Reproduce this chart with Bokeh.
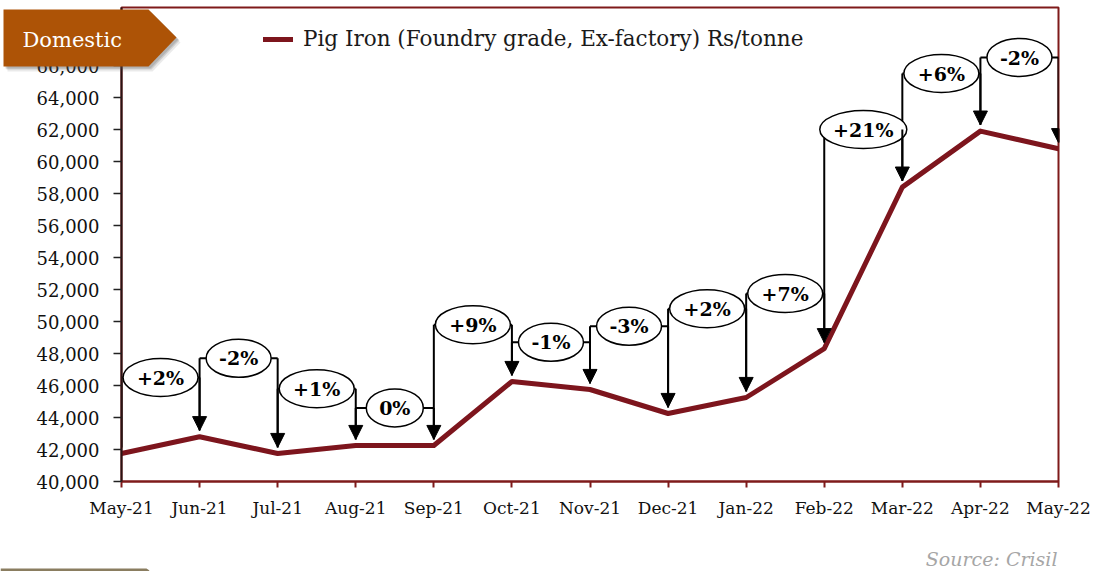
from bokeh.plotting import figure
from bokeh.layouts import column, row
from bokeh.models import (Range1d, FixedTicker, NumeralTickFormatter, Arrow, NormalHead,
                          Legend, LegendItem, ColumnDataSource)
from bokeh.core.properties import value
from bokeh.embed import file_html
from bokeh.resources import INLINE

# ---------------- data ----------------
months = ["May-21", "Jun-21", "Jul-21", "Aug-21", "Sep-21", "Oct-21", "Nov-21",
          "Dec-21", "Jan-22", "Feb-22", "Mar-22", "Apr-22", "May-22"]
prices = [41750, 42800, 41750, 42250, 42250, 46250, 45750, 44250, 45250, 48300,
          58400, 61900, 60800]
change_labels = ["+2%", "-2%", "+1%", "0%", "+9%", "-1%", "-3%", "+2%", "+7%",
                 "+21%", "+6%", "-2%"]
# vertical level (Rs/tonne) at which each change bubble sits
label_levels = [46500, 47700, 45800, 44600, 49800, 48700, 49700, 50800, 51750,
                62000, 65500, 66500]
y_ticks = list(range(40000, 68001, 2000))
series_name = "Pig Iron (Foundry grade, Ex-factory) Rs/tonne"
section_title = "Domestic"
source_note = "Source: Crisil"

# ---------------- styles ----------------
SERIF = "DejaVu Serif"
LINE_RED = "#7d151d"
FRAME_RED = "#7f1a1a"
BANNER = "#ad5306"
ARROW_GAP = 380  # gap between arrow tip and the line (data units)

W, H = 1093, 571

xs = list(range(len(months)))
mids = [i + 0.5 for i in range(len(change_labels))]
tips = [v + ARROW_GAP for v in prices]

char_w = {"+": 18, "-": 8, "%": 17}
def bubble_width(s):
    return 28 + sum(char_w.get(c, 12) for c in s)
widths = [bubble_width(s) for s in change_labels]

p = figure(width=W, height=H, output_backend="svg", toolbar_location=None,
           x_range=Range1d(0, 12), y_range=Range1d(40000, 69625),
           min_border_left=121, min_border_right=35, min_border_top=7,
           min_border_bottom=90)
p.background_fill_color = "white"
p.border_fill_color = "white"
p.outline_line_color = FRAME_RED
p.outline_line_width = 2
p.grid.visible = False

# x axis
p.xaxis.ticker = FixedTicker(ticks=xs)
p.xaxis.major_label_overrides = {i: m for i, m in enumerate(months)}
p.xaxis.axis_line_color = FRAME_RED
p.xaxis.axis_line_width = 2
p.xaxis.major_tick_line_color = FRAME_RED
p.xaxis.major_tick_line_width = 2
p.xaxis.major_tick_out = 6
p.xaxis.major_tick_in = 0
p.xaxis.minor_tick_line_color = None
p.xaxis.major_label_standoff = 10
p.xaxis.major_label_text_font = SERIF
p.xaxis.major_label_text_font_size = "17px"
p.xaxis.major_label_text_color = "#111111"

# y axis
p.yaxis.ticker = FixedTicker(ticks=y_ticks)
p.yaxis.formatter = NumeralTickFormatter(format="0,0")
p.yaxis.axis_line_color = "#2a1212"
p.yaxis.axis_line_width = 2
p.yaxis.major_tick_line_color = "#222222"
p.yaxis.major_tick_line_width = 1.5
p.yaxis.major_tick_out = 8
p.yaxis.major_tick_in = 0
p.yaxis.minor_tick_line_color = None
p.yaxis.major_label_standoff = 14
p.yaxis.major_label_text_font = SERIF
p.yaxis.major_label_text_font_size = "18px"
p.yaxis.major_label_text_color = "#111111"

# series line
r = p.line(xs, prices, line_color=LINE_RED, line_width=5,
           line_join="round", line_cap="round")

# bracket connectors
seg = ColumnDataSource(dict(
    x0=[i for i in range(len(change_labels))],
    x1=[i + 1 for i in range(len(change_labels))],
    lvl=label_levels,
    tip0=tips[:-1],
))
p.segment(x0="x0", y0="lvl", x1="x1", y1="lvl", source=seg, line_color="black", line_width=2)
p.segment(x0="x0", y0="lvl", x1="x0", y1="tip0", source=seg, line_color="black", line_width=2)

arr_src = ColumnDataSource(dict(
    xs=[i + 1 for i in range(len(change_labels))],
    ys=label_levels,
    ye=tips[1:],
))
p.add_layout(Arrow(end=NormalHead(size=14, fill_color="black", line_color="black", line_width=1),
                   x_start="xs", y_start="ys", x_end="xs", y_end="ye", source=arr_src,
                   line_color="black", line_width=2))

bub = ColumnDataSource(dict(x=mids, y=label_levels, w=widths, t=change_labels))
p.ellipse(x="x", y="y", width="w", height=38, width_units="screen", height_units="screen",
          source=bub, fill_color="white", line_color="black", line_width=1.5)
p.text(x="x", y="y", text="t", source=bub, text_align="center", text_baseline="middle",
       text_font=value(SERIF), text_font_style="bold", text_font_size="19px",
       text_color="black")

# legend
legend = Legend(items=[LegendItem(label=series_name, renderers=[r])],
                location=(142, 430), orientation="horizontal",
                padding=0, margin=0, spacing=0, glyph_width=30, glyph_height=24,
                label_height=24, label_standoff=10,
                label_text_font=SERIF, label_text_font_size="21.5px",
                label_text_color="#1a1a1a",
                border_line_color=None, background_fill_alpha=0)
p.add_layout(legend)

# ---------------- transparent overlay (page-pixel coordinates) ----------------
ov = figure(width=W, height=H, output_backend="svg", toolbar_location=None,
            x_range=Range1d(0, W), y_range=Range1d(H, 0),
            x_axis_type=None, y_axis_type=None,
            min_border_left=0, min_border_right=0, min_border_top=0, min_border_bottom=0)
ov.outline_line_color = None
ov.background_fill_alpha = 0
ov.border_fill_alpha = 0
ov.grid.visible = False

bx = [3, 148, 176, 148, 3]
by = [9, 9, 37, 66, 66]
for dx, dy, a in [(4, 5, 0.12), (3, 3, 0.18), (2, 2, 0.22)]:
    ov.patch([x + dx for x in bx], [y + dy for y in by], fill_color="#555555",
             fill_alpha=a, line_color=None)
ov.patch(bx, by, fill_color=BANNER, line_color=None)
ov.text(x=[22], y=[39], text=[section_title], text_color="white",
        text_font=value(SERIF), text_font_size="21px", text_baseline="middle")
ov.text(x=[1057], y=[558], text=[source_note], text_align="right", text_baseline="middle",
        text_color="#a6a6a6", text_font=value(SERIF), text_font_style="italic",
        text_font_size="19px")
ov.patch([0, 146, 149, 146, 0], [568, 568, 570, 572, 572], fill_color="#8a7d60", line_color=None)

wrap = row(ov, margin=(-H, 0, 0, 0), styles={"position": "relative", "z-index": "10"})
layout = column(p, wrap)
open("out.html", "w").write(file_html(layout, INLINE))
